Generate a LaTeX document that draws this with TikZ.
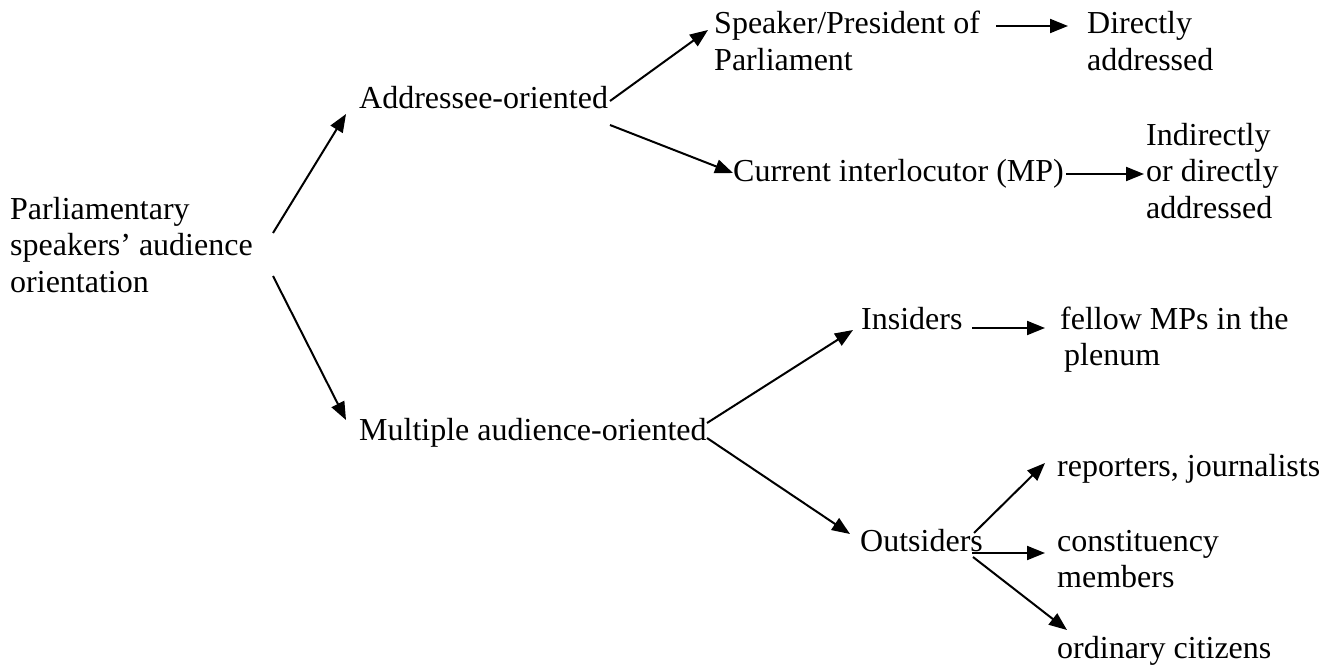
\documentclass[tikz,border=0pt]{standalone}
\usepackage{fontspec}
\setmainfont{Liberation Serif}
\usetikzlibrary{arrows.meta}
\begin{document}
\begin{tikzpicture}[x=1pt,y=-1pt,
  lbl/.style={anchor=base west,inner sep=0pt,align=left,font=\fontsize{32}{36.8}\selectfont},
  arr/.style={line width=2pt,-{Triangle[length=18pt,width=14pt]}}]
\useasboundingbox (0,0) rectangle (1333,666);
% nodes (anchor = baseline of the last line)
\node[lbl] (root) at (10,292.6) {Parliamentary\\speakers’ audience\\orientation};
\node[lbl] (addr) at (359,109) {Addressee-oriented};
\node[lbl] (spk)  at (714,70.8)  {Speaker/President of\\Parliament};
\node[lbl] (dir)  at (1087,70.8) {Directly\\addressed};
\node[lbl] (cur)  at (733,182) {Current interlocutor (MP)};
\node[lbl] (ind)  at (1146,218.6) {Indirectly\\or directly\\addressed};
\node[lbl] (mult) at (359,440) {Multiple audience-oriented};
\node[lbl] (ins)  at (861,329) {Insiders};
\node[lbl] (fel)  at (1060,365.8) {fellow MPs in the\\\hspace{4pt}plenum};
\node[lbl] (out)  at (860,551) {Outsiders};
\node[lbl] (rep)  at (1057,476) {reporters, journalists};
\node[lbl] (con)  at (1057,587.8) {constituency\\members};
\node[lbl] (ord)  at (1057,658) {ordinary citizens};
% connector end points
\coordinate (rootU) at (273,233);
\coordinate (rootD) at (273,276);
\coordinate (addrIn) at (346,114);
\coordinate (multIn) at (346,420);
\coordinate (addrU) at (610,101);
\coordinate (addrD) at (610,125);
\coordinate (spkIn) at (708,30);
\coordinate (curIn) at (733,173);
\coordinate (spkOut) at (996,26);
\coordinate (dirIn) at (1068,26);
\coordinate (curOut) at (1066,174);
\coordinate (indIn) at (1144,174);
\coordinate (multU) at (707,423);
\coordinate (multD) at (707,438);
\coordinate (insIn) at (853,330);
\coordinate (outIn) at (850,534);
\coordinate (insOut) at (972,328);
\coordinate (felIn) at (1045,328);
\coordinate (outU) at (974,533);
\coordinate (outM) at (972,553);
\coordinate (outD) at (973,557);
\coordinate (repIn) at (1045,463);
\coordinate (conIn) at (1045,553);
\coordinate (ordIn) at (1067,630);
% connectors
\draw[arr] (rootU) -- (addrIn);
\draw[arr] (rootD) -- (multIn);
\draw[arr] (addrU) -- (spkIn);
\draw[arr] (addrD) -- (curIn);
\draw[arr] (spkOut) -- (dirIn);
\draw[arr] (curOut) -- (indIn);
\draw[arr] (multU) -- (insIn);
\draw[arr] (multD) -- (outIn);
\draw[arr] (insOut) -- (felIn);
\draw[arr] (outU) -- (repIn);
\draw[arr] (outM) -- (conIn);
\draw[arr] (outD) -- (ordIn);
\end{tikzpicture}
\end{document}
